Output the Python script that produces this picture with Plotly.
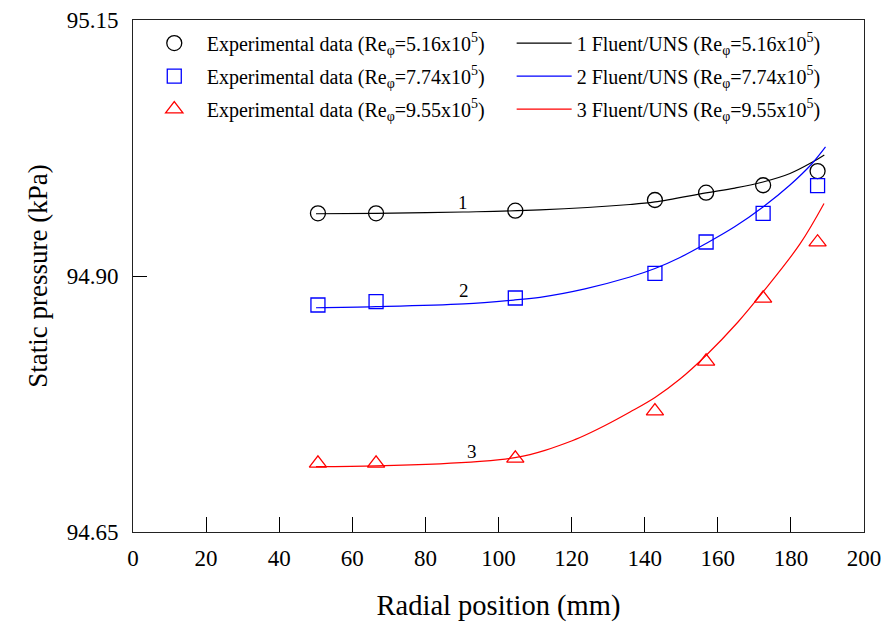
import plotly.graph_objects as go

# Measured radial positions (mm)
radius_exp = [50.6, 66.5, 104.6, 142.8, 156.8, 172.4, 187.3]

# Measured static pressure (kPa) for the three rotational Reynolds numbers
p_exp_516 = [94.9612, 94.9612, 94.9638, 94.9742, 94.9814, 94.9886, 95.0025]
p_exp_774 = [94.8717, 94.8749, 94.8785, 94.9026, 94.9332, 94.9612, 94.9882]
p_exp_955 = [94.717, 94.717, 94.7219, 94.768, 94.8166, 94.8781, 94.933]

# Fluent/UNS computed profiles
r_cfd_1 = [50.07, 66.48, 90.29, 111.35, 135.98, 142.82, 156.77, 164.71, 172.37, 179.75, 185.69, 189.14]
p_cfd_1 = [94.9608, 94.9612, 94.9625, 94.9645, 94.9698, 94.9723, 94.9811, 94.9859, 94.9918, 95.0001, 95.0108, 95.0182]

r_cfd_2 = [50.07, 66.48, 90.56, 104.5, 111.35, 123.67, 135.98, 142.82, 149.66, 156.77, 164.71, 172.37, 179.75, 185.69, 189.47]
p_cfd_2 = [94.8690, 94.8700, 94.8727, 94.8766, 94.8792, 94.8875, 94.8990, 94.9073, 94.9181, 94.9317, 94.9483, 94.9674, 94.9889, 95.0094, 95.0260]

r_cfd_3 = [50.07, 66.48, 84.0, 94.94, 100.41, 104.5, 108.62, 112.72, 116.83, 122.3, 129.14,
           135.98, 142.82, 149.66, 156.77, 165.53, 172.37, 182.49, 189.06]
p_cfd_3 = [94.7138, 94.7146, 94.7166, 94.7189, 94.7207, 94.7227, 94.7256, 94.7297, 94.7347, 94.7423, 94.7540,
           94.7672, 94.7814, 94.7994, 94.8224, 94.8551, 94.8844, 94.9313, 94.9708]

x_ticks = [0, 20, 40, 60, 80, 100, 120, 140, 160, 180, 200]
y_ticks = [94.65, 94.90, 95.15]
y_tick_text = ["94.65", "94.90", "95.15"]

exp_names = [
    "Experimental data (Re<sub>φ</sub>=5.16x10<sup>5</sup>)",
    "Experimental data (Re<sub>φ</sub>=7.74x10<sup>5</sup>)",
    "Experimental data (Re<sub>φ</sub>=9.55x10<sup>5</sup>)",
]
cfd_names = [
    "1 Fluent/UNS (Re<sub>φ</sub>=5.16x10<sup>5</sup>)",
    "2 Fluent/UNS (Re<sub>φ</sub>=7.74x10<sup>5</sup>)",
    "3 Fluent/UNS (Re<sub>φ</sub>=9.55x10<sup>5</sup>)",
]
curve_labels = ["1", "2", "3"]
label_pos_x = [90.3, 90.6, 92.7]
label_pos_y = [94.9713, 94.8863, 94.7291]

FONT = "Liberation Serif"
colors = ["#000000", "#0000ff", "#ff0000"]
symbols = ["circle-open", "square-open", "triangle-up-open"]
sizes = [15, 14, 15]

fig = go.Figure()

exp_series = [p_exp_516, p_exp_774, p_exp_955]
cfd_series = [(r_cfd_1, p_cfd_1), (r_cfd_2, p_cfd_2), (r_cfd_3, p_cfd_3)]

for i in range(3):
    fig.add_trace(go.Scatter(
        x=radius_exp, y=exp_series[i], mode="markers", name=exp_names[i],
        marker=dict(symbol=symbols[i], size=sizes[i], color=colors[i],
                    line=dict(width=1.3, color=colors[i])),
        legend="legend", legendgroup=f"exp{i}", cliponaxis=False,
    ))

for i in range(3):
    rx, py = cfd_series[i]
    fig.add_trace(go.Scatter(
        x=rx, y=py, mode="lines", name=cfd_names[i],
        line=dict(color=colors[i], width=1.2, shape="spline", smoothing=1.0),
        legend="legend2", legendgroup=f"cfd{i}",
    ))

for i in range(3):
    fig.add_annotation(x=label_pos_x[i], y=label_pos_y[i], text=curve_labels[i],
                       showarrow=False, font=dict(family=FONT, size=19, color="#000"))

legend_common = dict(
    font=dict(family=FONT, size=20, color="#000"),
    bgcolor="rgba(0,0,0,0)", borderwidth=0,
    orientation="v", xanchor="left", yanchor="top",
    itemwidth=55, tracegroupgap=4, traceorder="grouped",
)

fig.update_layout(
    width=893, height=623,
    margin=dict(l=133, r=29, t=20, b=91, autoexpand=False),
    paper_bgcolor="white", plot_bgcolor="white",
    font=dict(family=FONT, color="#000"),
    showlegend=True,
    legend=dict(x=0.012, y=0.993, **legend_common),
    legend2=dict(x=0.518, y=0.993, **legend_common),
    xaxis=dict(
        range=[0, 200], tickvals=x_ticks, ticks="inside", ticklen=15,
        tickwidth=1, tickcolor="#000", showline=True, linecolor="#222",
        linewidth=1, mirror=True, showgrid=False, zeroline=False,
        ticklabelstandoff=5, automargin=False,
        tickfont=dict(family=FONT, size=23, color="#000"),
        title=dict(text="Radial position (mm)", font=dict(family=FONT, size=28.5), standoff=25),
    ),
    yaxis=dict(
        range=[94.65, 95.15], tickvals=y_ticks, ticktext=y_tick_text,
        ticks="inside", ticklen=14, tickwidth=1, tickcolor="#000",
        showline=True, linecolor="#222", linewidth=1, mirror=True,
        showgrid=False, zeroline=False, ticklabelstandoff=9, automargin=False,
        tickfont=dict(family=FONT, size=23, color="#000"),
        title=dict(text="Static pressure (kPa)", font=dict(family=FONT, size=27), standoff=11),
    ),
)

fig.write_html("out.html")
